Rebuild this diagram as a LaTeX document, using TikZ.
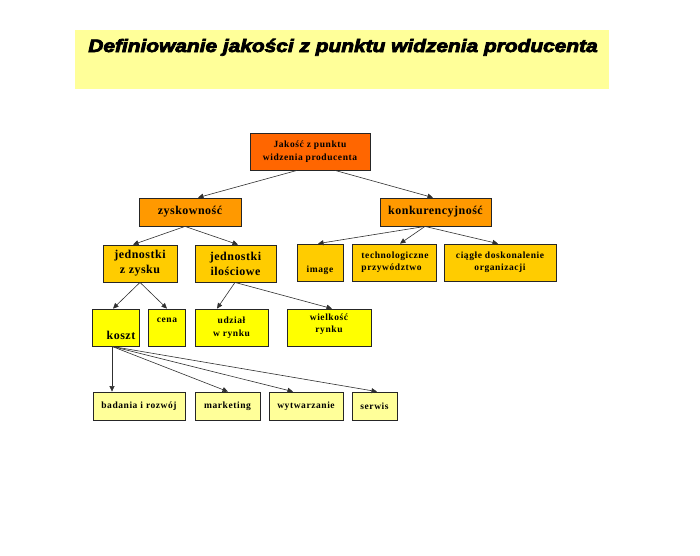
\documentclass[tikz,border=0pt]{standalone}
\usepackage{fontspec}
\setmainfont{Liberation Serif}
\newfontfamily\titlefont{Liberation Sans}
\newfontfamily\smallfont{Liberation Serif}[LetterSpace=6]
\newfontfamily\bigfont{Liberation Serif}[LetterSpace=4]
\usetikzlibrary{arrows.meta}
\definecolor{cTop}{HTML}{FF6600}
\definecolor{cTwo}{HTML}{FF9900}
\definecolor{cThree}{HTML}{FFCC00}
\definecolor{cFour}{HTML}{FFFF00}
\definecolor{cFive}{HTML}{FFFF99}
\definecolor{cBand}{HTML}{FFFF99}
\definecolor{cLine}{HTML}{303030}
\tikzset{
  box/.style={draw=black!85, line width=0.8pt, rectangle, inner sep=0pt, minimum height=37pt},
  lab/.style={font=\smallfont\bfseries\fontsize{9.5}{12.5}\selectfont, align=center, inner sep=0pt},
  biglab/.style={font=\bigfont\bfseries\fontsize{12}{15}\selectfont, align=center, inner sep=0pt},
  arr/.style={draw=cLine, line width=0.6pt, -{Triangle[length=5.5pt,width=5pt]}}
}
\begin{document}
\begin{tikzpicture}[x=1pt,y=-1pt]
\useasboundingbox (0,0) rectangle (700,555);
\fill[white] (0,0) rectangle (700,555);
% title band
\node[fill=cBand, minimum width=534pt, minimum height=59pt, inner sep=0pt] (band) at (342,59.5) {};
\node[anchor=base, inner sep=0pt, font=\titlefont\bfseries\itshape\addfontfeatures{FakeBold=4}\fontsize{18}{20}\selectfont] (title) at (343,52) {\scalebox{1.16}[1]{Definiowanie jakości z punktu widzenia producenta}};
% level 1
\node[box, fill=cTop, minimum width=120pt, lab] (top) at (310,151.5) {Jakość z punktu\\widzenia producenta};
% level 2
\node[box, fill=cTwo, minimum width=102pt, minimum height=28pt, biglab] (zysk) at (190,212) {zyskowność};
\node[box, fill=cTwo, minimum width=111pt, minimum height=28pt, biglab] (konk) at (435.5,212) {konkurencyjność};
% level 3
\node[box, fill=cThree, minimum width=74pt, biglab] (jz) at (140,263.5) {jednostki\\z zysku};
\node[box, fill=cThree, minimum width=81pt, biglab] (ji) at (235.5,263.5) {jednostki\\ilościowe};
\node[box, fill=cThree, minimum width=46pt] (image) at (320,262.5) {};
\node[lab] (imaget) at (320,270) {image};
\node[box, fill=cThree, minimum width=84pt] (tech) at (394,262.5) {};
\node[lab, align=left] (techt) at (395,262) {technologiczne\\przywództwo};
\node[box, fill=cThree, minimum width=112pt] (ciag) at (500,262.5) {};
\node[lab] (ciagt) at (500,262) {ciągłe doskonalenie\\organizacji};
% level 4
\node[box, fill=cFour, minimum width=47pt] (koszt) at (115.5,327.5) {};
\node[biglab] (kosztt) at (121,335) {koszt};
\node[box, fill=cFour, minimum width=37pt] (cena) at (166.5,327.5) {};
\node[lab] (cenat) at (167,320) {cena};
\node[box, fill=cFour, minimum width=73pt, lab] (udz) at (231.5,327.5) {udział\\w rynku};
\node[box, fill=cFour, minimum width=84pt] (wiel) at (329,327.5) {};
\node[lab] (wielt) at (329,324) {wielkość\\rynku};
% level 5
\node[box, fill=cFive, minimum width=92pt, minimum height=28pt, lab] (bad) at (139,406) {badania i rozwój};
\node[box, fill=cFive, minimum width=65pt, minimum height=28pt, lab] (mark) at (227.5,406) {marketing};
\node[box, fill=cFive, minimum width=74pt, minimum height=28pt, lab] (wytw) at (306,406) {wytwarzanie};
\node[box, fill=cFive, minimum width=45pt, minimum height=28pt, lab] (serw) at (374.5,406) {serwis};
% connectors
\draw[arr] ([xshift=-13pt]top.south) -- ([xshift=8pt]zysk.north);
\draw[arr] ([xshift=25pt]top.south) -- ([xshift=-2.5pt]konk.north);
\draw[arr] ([xshift=-5pt]zysk.south) -- ([xshift=-7pt]jz.north);
\draw[arr] ([xshift=-5pt]zysk.south) -- ([xshift=2.5pt]ji.north);
\draw[arr] ([xshift=-10.5pt]konk.south) -- ([xshift=-2pt]image.north);
\draw[arr] ([xshift=-10.5pt]konk.south) -- ([xshift=6pt]tech.north);
\draw[arr] ([xshift=-10.5pt]konk.south) -- ([xshift=-2pt]ciag.north);
\draw[arr] (jz.south) -- ([xshift=-2.5pt]koszt.north);
\draw[arr] (jz.south) -- ([xshift=0.5pt]cena.north);
\draw[arr] ([xshift=-0.5pt]ji.south) -- ([xshift=-14.5pt]udz.north);
\draw[arr] ([xshift=-0.5pt]ji.south) -- ([xshift=3pt]wiel.north);
\draw[arr] ([xshift=-3.5pt]koszt.south) -- ([xshift=-27pt]bad.north);
\draw[arr] ([xshift=-3.5pt]koszt.south) -- ([xshift=0.5pt]mark.north);
\draw[arr] ([xshift=-3.5pt]koszt.south) -- ([xshift=-13pt]wytw.north);
\draw[arr] ([xshift=-3.5pt]koszt.south) -- ([xshift=2.5pt]serw.north);
\end{tikzpicture}
\end{document}
